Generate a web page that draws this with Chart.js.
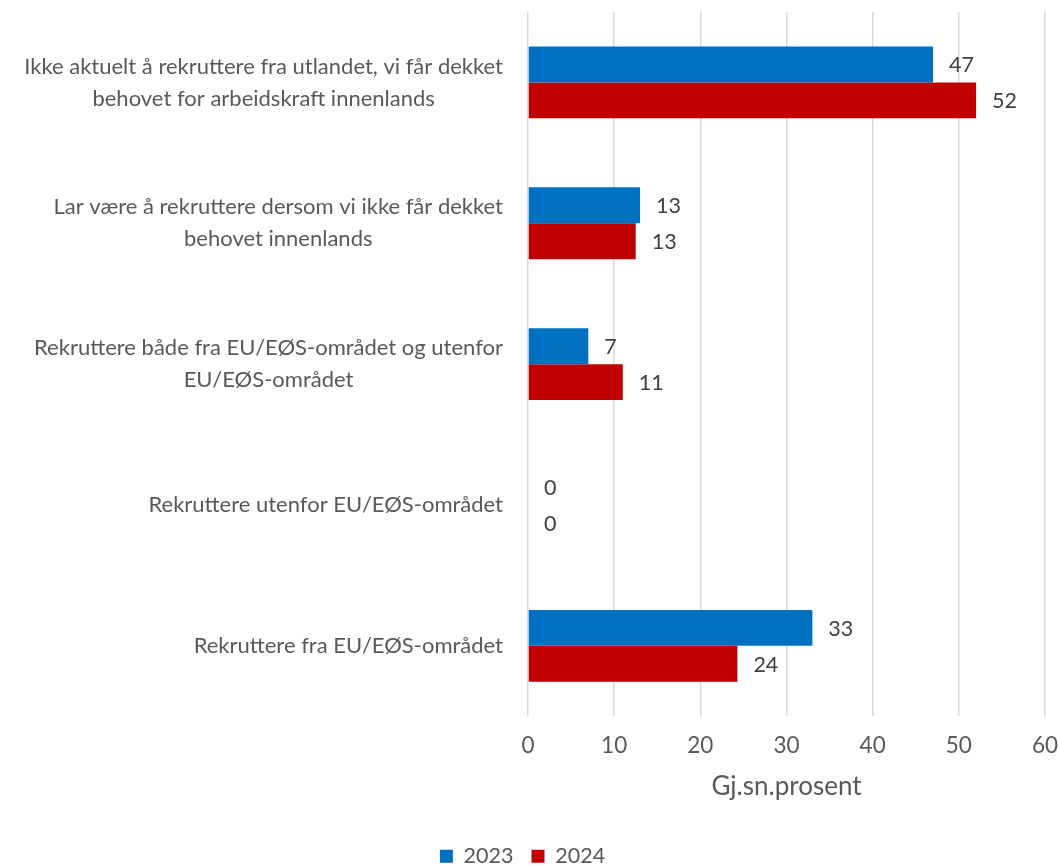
<!DOCTYPE html>
<html>
<head>
<meta charset="utf-8">
<script src="https://cdn.jsdelivr.net/npm/chart.js@4"></script>
<style>
  body { margin: 0; background: #fff; }
</style>
</head>
<body>
<canvas id="chart" width="1058" height="866"></canvas>
<script>
// categories, top to bottom
var categories = [
  ['Ikke aktuelt å rekruttere fra utlandet, vi får dekket', 'behovet for arbeidskraft innenlands'],
  ['Lar være å rekruttere dersom vi ikke får dekket', 'behovet innenlands'],
  ['Rekruttere både fra EU/EØS-området og utenfor', 'EU/EØS-området'],
  ['Rekruttere utenfor EU/EØS-området'],
  ['Rekruttere fra EU/EØS-området']
];
var values2023 = [47, 13, 7, 0, 33];
var values2024 = [52, 12.5, 11, 0, 24.3];
var xTicks = [0, 10, 20, 30, 40, 50, 60];

var FONT = 'Lato, "Open Sans", sans-serif';
var AXIS_LEFT = 528;

// y labels: block right aligned, lines centred inside the block (like Excel)
var catLabels = {
  id: 'catLabels',
  afterDraw: function(chart) {
    var ctx = chart.ctx, y = chart.scales.y;
    ctx.save();
    ctx.font = '22px ' + FONT;
    ctx.fillStyle = '#595959';
    ctx.textAlign = 'center';
    ctx.textBaseline = 'middle';
    var lh = 32;
    categories.forEach(function(lines, i) {
      var w = 0;
      lines.forEach(function(l) { w = Math.max(w, ctx.measureText(l).width); });
      var cx = AXIS_LEFT - 25 - w / 2;
      var cy = y.getPixelForValue(i);
      var y0 = cy - (lines.length - 1) * lh / 2;
      lines.forEach(function(l, k) { ctx.fillText(l, cx, y0 + k * lh); });
    });
    ctx.restore();
  }
};

var valueLabels = {
  id: 'valueLabels',
  afterDatasetsDraw: function(chart) {
    var ctx = chart.ctx;
    ctx.save();
    ctx.font = '21.5px ' + FONT;
    ctx.fillStyle = '#404040';
    ctx.textAlign = 'left';
    ctx.textBaseline = 'middle';
    chart.data.datasets.forEach(function(ds, d) {
      chart.getDatasetMeta(d).data.forEach(function(bar, i) {
        ctx.fillText(Math.round(ds.data[i]), bar.x + 16, bar.y + 1);
      });
    });
    ctx.restore();
  }
};

new Chart(document.getElementById('chart'), {
  type: 'bar',
  data: {
    labels: categories.map(function(c) { return c.join(' '); }),
    datasets: [
      { label: '2023', data: values2023, backgroundColor: '#0070C0' },
      { label: '2024', data: values2024, backgroundColor: '#C00000' }
    ]
  },
  options: {
    indexAxis: 'y',
    responsive: false,
    animation: false,
    categoryPercentage: 0.51,
    barPercentage: 1,
    layout: { padding: { top: 12, right: 13, bottom: -11, left: 0 } },
    scales: {
      x: {
        min: 0, max: 60,
        afterBuildTicks: function(s) { s.ticks = xTicks.map(function(v) { return { value: v }; }); },
        afterFit: function(s) { s.paddingLeft = 0; s.paddingRight = 0; },
        grid: { color: '#d9d9d9', lineWidth: 1.5, drawTicks: false },
        border: { display: false },
        ticks: { color: '#595959', font: { family: FONT, size: 22.5 }, padding: 16 },
        title: { display: true, text: 'Gj.sn.prosent', color: '#595959',
                 font: { family: FONT, size: 26 }, padding: { top: -4, bottom: 25 } }
      },
      y: {
        grid: { display: false },
        border: { display: false },
        ticks: { display: false },
        afterFit: function(s) { s.width = AXIS_LEFT; }
      }
    },
    plugins: {
      legend: {
        position: 'bottom',
        labels: { color: '#595959', font: { family: FONT, size: 21.5 },
                  boxWidth: 13, boxHeight: 13, padding: 18 }
      },
      tooltip: { enabled: false }
    }
  },
  plugins: [catLabels, valueLabels]
});
</script>
</body>
</html>
